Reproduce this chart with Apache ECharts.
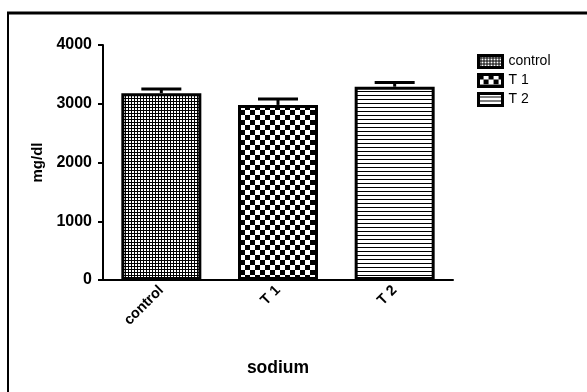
<!DOCTYPE html>
<html><head><meta charset="utf-8">
<script src="https://cdn.jsdelivr.net/npm/echarts@6/dist/echarts.min.js"></script>
<style>html,body{margin:0;padding:0;background:#fff}#c{width:587px;height:392px}</style>
</head><body><div id="c"></div>
<script>
var categories = ['control', 'T 1', 'T 2'];
var seriesNames = ['control', 'T 1', 'T 2'];
var means = [3180, 2980, 3290];
var errors = [70, 100, 70];
var yTicks = [0, 1000, 2000, 3000, 4000];

function makePattern(w, h, draw) {
  var c = document.createElement('canvas'); c.width = w; c.height = h;
  var g = c.getContext('2d'); draw(g, w, h);
  return {image: c, repeat: 'repeat'};
}
var patterns = [
  makePattern(3, 3, function (g) { g.fillStyle = '#000'; g.fillRect(0, 0, 3, 3); g.fillStyle = '#fff'; g.fillRect(0, 0, 2, 2); }),
  makePattern(10, 10, function (g) { g.fillStyle = '#fff'; g.fillRect(0, 0, 10, 10); g.fillStyle = '#000'; g.fillRect(0, 0, 5, 5); g.fillRect(5, 5, 5, 5); }),
  makePattern(4, 4, function (g) { g.fillStyle = '#fff'; g.fillRect(0, 0, 4, 4); g.fillStyle = '#000'; g.fillRect(0, 3, 4, 1); })
];

var FONT = 'Arial, "Liberation Sans", sans-serif';
var series = seriesNames.map(function (n, i) {
  var d = categories.map(function (c, j) { return j === i ? means[i] : '-'; });
  return {
    name: n, type: 'bar', data: d, barWidth: 80, barGap: '-100%',
    itemStyle: {color: patterns[i], borderColor: '#000', borderWidth: 3},
    z: 2
  };
});
series.push({
  type: 'custom', name: 'err', z: 5,
  data: means.map(function (m, i) { return [i, m, errors[i]]; }),
  encode: {x: 0, y: 1},
  renderItem: function (params, api) {
    var x = api.value(0), m = api.value(1), e = api.value(2);
    var p0 = api.coord([x, m]), p1 = api.coord([x, m + e]);
    var hw = 20;
    return {type: 'group', children: [
      {type: 'line', shape: {x1: p0[0], y1: p0[1], x2: p1[0], y2: p1[1]}, style: {stroke: '#000', lineWidth: 3}},
      {type: 'line', shape: {x1: p0[0] - hw, y1: p1[1], x2: p0[0] + hw, y2: p1[1]}, style: {stroke: '#000', lineWidth: 3}}
    ]};
  }
});

var chart = echarts.init(document.getElementById('c'), null, {renderer: 'canvas'});
chart.setOption({
  animation: false,
  backgroundColor: '#fff',
  textStyle: {fontFamily: FONT},
  grid: {left: 103, right: 134, top: 45, bottom: 112, containLabel: false},
  legend: {
    data: seriesNames, orient: 'vertical', left: 472, top: 49,
    icon: 'rect', itemWidth: 24, itemHeight: 12, itemGap: 4,
    itemStyle: {borderWidth: 3, borderColor: '#000'},
    textStyle: {fontFamily: FONT, fontSize: 14, color: '#000', padding: [0, 0, 0, 1]}
  },
  xAxis: {
    type: 'category', data: categories,
    axisLine: {lineStyle: {color: '#000', width: 2}},
    axisTick: {alignWithLabel: true, length: 5, lineStyle: {color: '#000', width: 2}},
    axisLabel: {rotate: 45, fontWeight: 'bold', fontSize: 14.5, color: '#000', fontFamily: FONT, margin: 8},
    name: 'sodium', nameLocation: 'middle', nameGap: 79,
    nameTextStyle: {fontWeight: 'bold', fontSize: 17.5, color: '#000', fontFamily: FONT}
  },
  yAxis: {
    type: 'value', min: 0, max: 4000, interval: 1000,
    splitLine: {show: false},
    axisLine: {show: true, lineStyle: {color: '#000', width: 2}},
    axisTick: {show: true, length: 5, lineStyle: {color: '#000', width: 2}},
    axisLabel: {fontWeight: 'bold', fontSize: 16, color: '#000', fontFamily: FONT, margin: 11,
      formatter: function (v) { return yTicks.indexOf(v) >= 0 ? String(v) : ''; }},
    name: 'mg/dl', nameLocation: 'middle', nameGap: 53, nameRotate: 90,
    nameTextStyle: {fontWeight: 'bold', fontSize: 15, color: '#000', fontFamily: FONT}
  },
  graphic: [
    {type: 'line', shape: {x1: 7, y1: 13, x2: 587, y2: 13}, style: {stroke: '#000', lineWidth: 3}},
    {type: 'line', shape: {x1: 8, y1: 12, x2: 8, y2: 392}, style: {stroke: '#000', lineWidth: 2}}
  ],
  series: series
});
</script></body></html>
